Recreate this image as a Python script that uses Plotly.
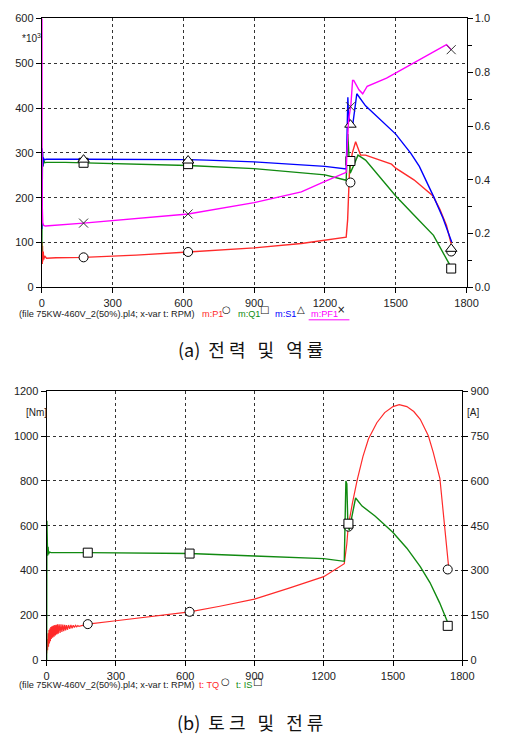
import plotly.graph_objects as go

W, H = 506, 740

# ---------------- (a) Power & power factor ----------------
P1_rpm = [0, 1, 2, 3, 4, 6, 8, 12, 20, 60, 177, 400, 620, 900, 1100, 1200, 1290, 1296, 1304, 1316, 1330, 1351, 1372, 1482, 1500, 1577, 1658, 1687, 1715, 1735]
P1 = [60, 100, 52, 92, 58, 80, 62, 70, 65, 66, 67, 72, 79, 88, 98, 105, 112, 150, 260, 300, 325, 295, 295, 275, 266, 240, 204, 174, 138, 97]

Q1_rpm = [0, 1, 2, 3, 5, 8, 12, 20, 100, 177, 400, 620, 900, 1200, 1290, 1294, 1297, 1302, 1307, 1320, 1340, 1372, 1500, 1580, 1660, 1729]
Q1 = [80, 290, 250, 300, 270, 285, 278, 279, 279, 278, 276, 272, 265, 251, 239, 300, 342, 290, 255, 270, 295, 284, 204, 160, 116, 50]

S1_rpm = [0, 1, 2, 3, 4, 6, 10, 20, 177, 300, 620, 700, 900, 1200, 1290, 1294, 1297, 1300, 1306, 1318, 1335, 1372, 1430, 1500, 1564, 1600, 1660, 1700, 1737]
S1 = [130, 310, 250, 300, 270, 290, 285, 286, 286, 286, 285, 284, 280, 270, 264, 350, 424, 380, 370, 364, 432, 405, 377, 342, 299, 270, 203, 155, 101]

PF_rpm = [0, 0.5, 1, 2, 4, 8, 15, 177, 400, 620, 900, 1100, 1200, 1290, 1293, 1300, 1310, 1317, 1322, 1344, 1360, 1379, 1461, 1500, 1633, 1700, 1715, 1735]
PF1 = [1.0, 1.2, 0.5, 0.3, 0.24, 0.23, 0.228, 0.239, 0.255, 0.273, 0.315, 0.355, 0.394, 0.428, 0.50, 0.62, 0.68, 0.77, 0.77, 0.735, 0.72, 0.748, 0.778, 0.797, 0.864, 0.895, 0.903, 0.884]

mkA_rpm = [177, 620, 1308, 1735]
P1_mk = [67, 79, 234, 80]
Q1_mk = [278, 275, 282, 42]
S1_mk = [285, 283, 363, 86]
PF_mk = [0.239, 0.273, 0.672, 0.884]

# ---------------- (b) Torque & current ----------------
TQ_rpm = [0, 2, 4, 6, 8, 10, 12, 14, 16, 18, 20, 23, 26, 29, 32, 35, 38, 41, 44, 47, 50, 54, 58, 62, 66, 70, 74, 78, 82, 86, 90, 95, 100, 105, 110, 115, 120, 125, 130, 135, 140, 150,
          178, 300, 450, 619, 750, 900, 1050, 1200, 1289, 1300, 1306, 1315, 1324, 1345, 1370, 1394, 1430, 1464, 1500, 1527, 1560, 1590, 1618, 1653, 1674, 1703, 1716, 1730, 1742]
TQ = [30, 95, 45, 120, 60, 135, 75, 142, 85, 148, 95, 152, 100, 155, 105, 157, 110, 158, 115, 160, 118, 160, 122, 160, 126, 159, 130, 158, 133, 157, 136, 157, 140, 157, 143, 156, 146, 156, 149, 155, 151, 153,
      161, 176, 194, 216, 241, 273, 322, 373, 431, 520, 596, 650, 700, 805, 910, 988, 1060, 1105, 1132, 1141, 1132, 1110, 1075, 1002, 929, 812, 680, 550, 405]

IS_rpm = [0, 1, 2, 3, 4, 6, 8, 12, 20, 178, 400, 619, 900, 1200, 1289, 1293, 1296, 1300, 1304, 1310, 1320, 1338, 1366, 1422, 1499, 1560, 1618, 1660, 1702, 1737]
IS = [0, 467, 420, 460, 350, 380, 355, 362, 360, 360, 358, 357, 349, 340, 331, 500, 600, 590, 470, 435, 470, 543, 516, 483, 428, 375, 313, 260, 192, 126]

mkB_rpm = [178, 619, 1307, 1737]
TQ_mk = [161, 216, 596, 405]
IS_mk = [360, 357, 457, 115]

RED, GREEN, BLUE, MAG = "#ff2a2a", "#118a11", "#0000ff", "#ff00ff"
FONT = "Liberation Sans, Arial, sans-serif"


def px(x):
    return x / W


def py(y):
    return 1 - y / H


fig = go.Figure()


def line(x, y, color, xa, ya, width=1.4):
    fig.add_trace(go.Scatter(x=x, y=y, mode="lines", xaxis=xa, yaxis=ya,
                             line=dict(color=color, width=width), showlegend=False, hoverinfo="skip"))


def marks(x, y, symbol, xa, ya, size=9):
    fig.add_trace(go.Scatter(x=x, y=y, mode="markers", xaxis=xa, yaxis=ya,
                             marker=dict(symbol=symbol, size=size, color="white",
                                         line=dict(color="black", width=1)),
                             cliponaxis=False, showlegend=False, hoverinfo="skip"))


line(P1_rpm, P1, RED, "x", "y")
line(Q1_rpm, Q1, GREEN, "x", "y")
line(S1_rpm, S1, BLUE, "x", "y")
line(PF_rpm, PF1, MAG, "x", "y2")
marks(mkA_rpm, P1_mk, "circle", "x", "y")
marks(mkA_rpm, Q1_mk, "square", "x", "y")
marks(mkA_rpm, S1_mk, "triangle-up", "x", "y", 10)
fig.add_trace(go.Scatter(x=mkA_rpm, y=PF_mk, mode="markers", xaxis="x", yaxis="y2",
                         marker=dict(symbol="x-thin", size=9, line=dict(color="#333", width=1)),
                         showlegend=False, hoverinfo="skip"))

line(TQ_rpm, TQ, RED, "x2", "y3", 1.2)
line(IS_rpm, IS, GREEN, "x2", "y4")
marks(mkB_rpm, TQ_mk, "circle", "x2", "y3")
marks(mkB_rpm, IS_mk, "square", "x2", "y4")

grid = dict(showgrid=True, gridcolor="#333", griddash="3px,3px", gridwidth=1)
axline = dict(showline=True, linecolor="black", linewidth=1.2, ticks="outside",
              ticklen=5, tickcolor="black", tickfont=dict(family=FONT, size=11, color="#222"),
              zeroline=False)

topY = [py(286), py(12.7)]
botY = [py(665), py(391.7)]

fig.update_layout(
    width=W, height=H, margin=dict(l=0, r=0, t=0, b=0),
    paper_bgcolor="white", plot_bgcolor="white", showlegend=False,
    xaxis=dict(domain=[px(40), px(477.7)], range=[0, 1800], dtick=300, anchor="y",
               mirror=True, **grid, **axline),
    yaxis=dict(domain=topY, range=[0, 600], dtick=100, anchor="x", **grid, **axline),
    yaxis2=dict(range=[0, 1], dtick=0.2, tickformat=".1f", overlaying="y", side="right",
                anchor="x", showgrid=False, minor=dict(dtick=0.1, ticklen=4, ticks="outside", tickcolor="black"),
                **axline),
    xaxis2=dict(domain=[px(45), px(473.3)], range=[0, 1800], dtick=300, anchor="y3",
                mirror=True, **grid, **axline),
    yaxis3=dict(domain=botY, range=[0, 1200], dtick=200, anchor="x2", **grid, **axline),
    yaxis4=dict(range=[0, 900], dtick=150, overlaying="y3", side="right", anchor="x2",
                showgrid=False, **axline),
)

anns = []


def txt(x, y, s, color="#222", size=10, xanchor="left", family=FONT):
    anns.append(dict(x=px(x), y=py(y), xref="paper", yref="paper", text=s, showarrow=False,
                     xanchor=xanchor, yanchor="middle", font=dict(family=family, size=size, color=color)))


def sym(x, y, c):
    anns.append(dict(x=px(x), y=py(y), xref="paper", yref="paper", text=c, showarrow=False,
                     xanchor="center", yanchor="middle",
                     font=dict(family="DejaVu Sans", size=10, color="#111")))


txt(18, 33, "*10<sup>3</sup>", size=10)
txt(22, 413, "[Nm]", size=10)
txt(476, 413, "[A]", size=10)

file_txt = "(file 75KW-460V_2(50%).pl4; x-var t: RPM)"
LS = 9.2
# legend line (a)
txt(14, 313, file_txt, size=LS)
txt(203, 313, "m:P1", RED, LS)
sym(230, 309, "○")
txt(240, 313, "m:Q1", GREEN, LS)
sym(270, 309, "□")
txt(278, 313, "m:S1", BLUE, LS)
sym(307, 309, "△")
txt(315, 313, "m:PF1", MAG, LS)
sym(348, 309, "×")
# legend line (b)
txt(14, 690, file_txt, size=LS)
txt(200, 690, "t: TQ", RED, LS)
sym(229, 687, "○")
txt(238, 690, "t: IS", GREEN, LS)
sym(262, 687, "□")

CJK = "Noto Sans CJK KR"
txt(255, 349, "(a)  전 력   및   역 률", "#111", 18, "center", CJK)
txt(255, 728, "(b)  토 크   및   전 류", "#111", 18, "center", CJK)

fig.update_layout(
    annotations=anns,
    shapes=[dict(type="line", xref="paper", yref="paper", x0=px(315), x1=px(357),
                 y0=py(319), y1=py(319), line=dict(color=MAG, width=1))],
)
fig.write_html("out.html")
